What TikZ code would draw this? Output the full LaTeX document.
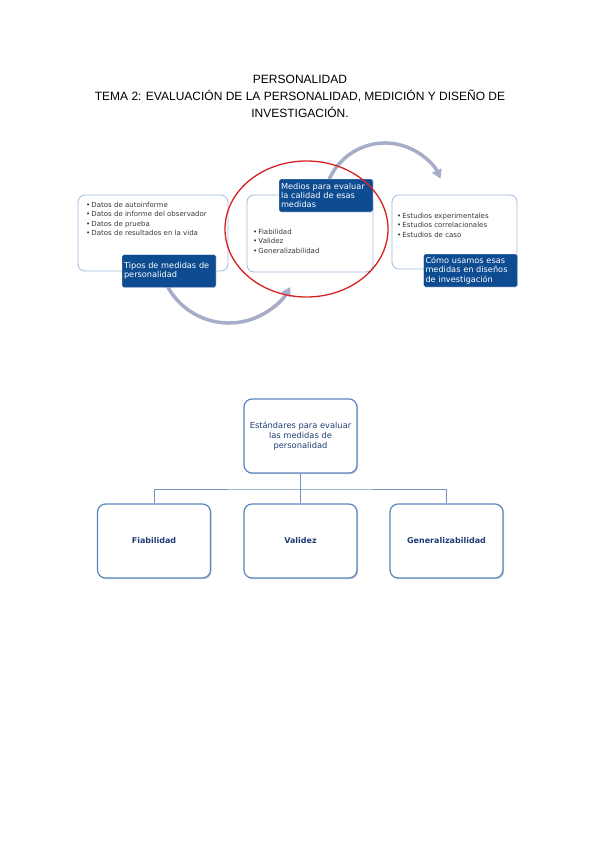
\documentclass[tikz,border=0pt]{standalone}
\usepackage{fontspec}
\setmainfont{Liberation Sans}
\newfontfamily\verd{DejaVu Sans}
\usetikzlibrary{arrows.meta,shadows,shapes.geometric}
\definecolor{labelblue}{HTML}{0E4C92}
\definecolor{boxline}{HTML}{9DBBDF}
\definecolor{arcgray}{HTML}{A7ADC8}
\definecolor{ringred}{HTML}{D52222}
\definecolor{orgline}{HTML}{5A86BF}
\definecolor{orgtext}{HTML}{1F3F76}
\definecolor{linkline}{HTML}{7593BE}
\begin{document}
\begin{tikzpicture}[x=1pt,y=-1pt,
  infobox/.style={draw=boxline, line width=0.8pt, fill=white, rounded corners=7pt, inner sep=0pt},
  tagbox/.style={fill=labelblue, draw=white, line width=0.4pt, rounded corners=1.5pt, text=white,
    font=\verd\fontsize{8.2}{9.4}\selectfont, align=left, inner xsep=2pt, inner ysep=0pt,
    minimum height=33pt, text width=90pt},
  bullets/.style={font=\verd\fontsize{7}{9.3}\selectfont, text=black!78, align=left, anchor=north west, inner sep=0pt},
  cyclearc/.style={draw=arcgray, line width=3.5pt, -{Triangle[length=9pt,width=10pt]}},
  ring/.style={draw=ringred, line width=1.3pt, ellipse, inner sep=0pt},
  orgbox/.style={draw=orgline, line width=1.2pt, fill=white, rounded corners=8pt,
    minimum width=113pt, minimum height=74pt, inner sep=3pt, text=orgtext,
    drop shadow={shadow xshift=1.2pt, shadow yshift=-1.2pt, opacity=.3, fill=black!60}},
  link/.style={draw=linkline, line width=1pt}]
\useasboundingbox[fill=white] (0,0) rectangle (600,848);

% title
\node[font=\fontsize{12}{17}\selectfont, align=center] (title) at (300,96)
  {PERSONALIDAD\\TEMA 2: EVALUACIÓN DE LA PERSONALIDAD, MEDICIÓN Y DISEÑO DE\\INVESTIGACIÓN.};

% cycle arcs
\coordinate (ca) at (385,204);
\coordinate (cb) at (229,253);
\draw[cyclearc] (ca) ++(200:61) arc[start angle=200, end angle=335.5, radius=61];
\draw[cyclearc] (cb) ++(155:70) arc[start angle=155, end angle=29, radius=70];

% boxes
\node[infobox, minimum width=150pt, minimum height=76pt] (b1) at (153,233) {};
\node[infobox, minimum width=126pt, minimum height=77pt] (b2) at (310,233.5) {};
\node[infobox, minimum width=125pt, minimum height=74pt] (b3) at (454.5,232) {};

\node[bullets] (t1) at (86,202) {•\,Datos de autoinforme\\•\,Datos de informe del observador\\•\,Datos de prueba\\•\,Datos de resultados en la vida};
\node[bullets] (t2) at (253,229) {•\,Fiabilidad\\•\,Validez\\•\,Generalizabilidad};
\node[bullets] (t3) at (397,213) {•\,Estudios experimentales\\•\,Estudios correlacionales\\•\,Estudios de caso};

\node[tagbox] (l1) at (169,271) {Tipos de medidas de\\personalidad};
\node[tagbox] (l2) at (326,195.5) {Medios para evaluar\\la calidad de esas\\medidas};
\node[tagbox] (l3) at (470.5,270.5) {Cómo usamos esas\\medidas en diseños\\de investigación};

% red ring
\node[ring, minimum width=163pt, minimum height=136pt] (rg) at (306.5,229) {};

% org chart
\node[orgbox, align=center, font=\verd\fontsize{8.3}{9.7}\selectfont] (std) at (300.5,436)
  {Estándares para evaluar\\las medidas de\\personalidad};
\node[orgbox, font=\verd\bfseries\fontsize{8}{9.6}\selectfont] (fia) at (154,541) {Fiabilidad};
\node[orgbox, font=\verd\bfseries\fontsize{8}{9.6}\selectfont] (val) at (300.5,541) {Validez};
\node[orgbox, font=\verd\bfseries\fontsize{8}{9.6}\selectfont] (gen) at (446.5,541) {Generalizabilidad};
\coordinate (bus) at (300.5,489);
\draw[link] (std.south) -- (bus) -- (val.north);
\draw[link] (fia.north) |- (bus) -| (gen.north);
\end{tikzpicture}
\end{document}
